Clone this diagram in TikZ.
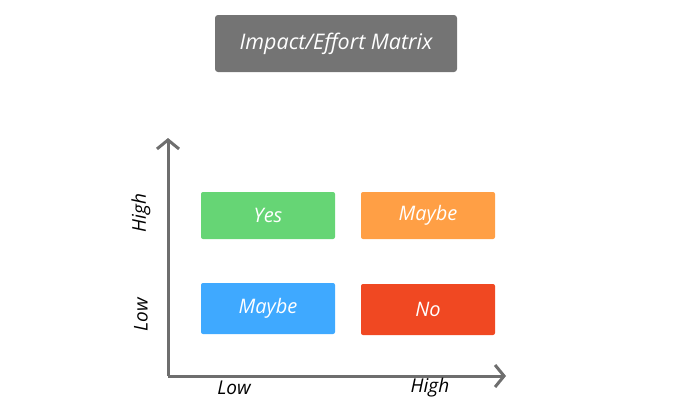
\documentclass[tikz,border=0pt]{standalone}
\usepackage{fontspec}
\setmainfont{Open Sans}
\usetikzlibrary{arrows.meta}
\definecolor{titlegray}{HTML}{747474}
\definecolor{axisgray}{HTML}{6E6E6E}
\definecolor{cgreen}{HTML}{66D575}
\definecolor{corange}{HTML}{FF9F45}
\definecolor{cblue}{HTML}{3FA9FF}
\definecolor{cred}{HTML}{F04822}
\begin{document}
\begin{tikzpicture}[x=1pt,y=-1pt,
  cell/.style={rounded corners=2pt,minimum width=134pt,inner sep=0pt,text=white,font=\itshape\fontsize{20}{24}\selectfont},
  axlab/.style={font=\itshape\fontsize{19}{22}\selectfont,text=black,inner sep=0pt},
  axis/.style={draw=axisgray,line width=3pt,-{Straight Barb[length=9pt,width=22pt,line width=3pt]}}]
\useasboundingbox (0,0) rectangle (700,408);
\node[fill=titlegray,rounded corners=3pt,minimum width=242pt,minimum height=57pt,inner sep=0pt,text=white,font=\itshape\fontsize{21.5}{25}\selectfont] (title) at (336,43.5) {Impact/Effort Matrix};
\coordinate (origin) at (168,376);
\coordinate (ytop) at (168,138);
\coordinate (xend) at (506,376);
\draw[axis] (origin) -- (ytop);
\draw[axis] (origin) -- (xend);
\node[cell,fill=cgreen,minimum height=47pt] (yes) at (268,215.5) {Yes};
\node[cell,fill=corange,minimum height=47pt] (maybe1) at (428,215.5) {Maybe};
\node[cell,fill=cblue,minimum height=51pt] (maybe2) at (268,308.5) {Maybe};
\node[cell,fill=cred,minimum height=51pt] (no) at (428,309.5) {No};
\node[axlab] (xlow) at (234,388) {Low};
\node[axlab] (xhigh) at (430,388) {High};
\node[axlab,rotate=90] (yhigh) at (141,213) {High};
\node[axlab,rotate=90] (ylow) at (141,315) {Low};
\end{tikzpicture}
\end{document}
